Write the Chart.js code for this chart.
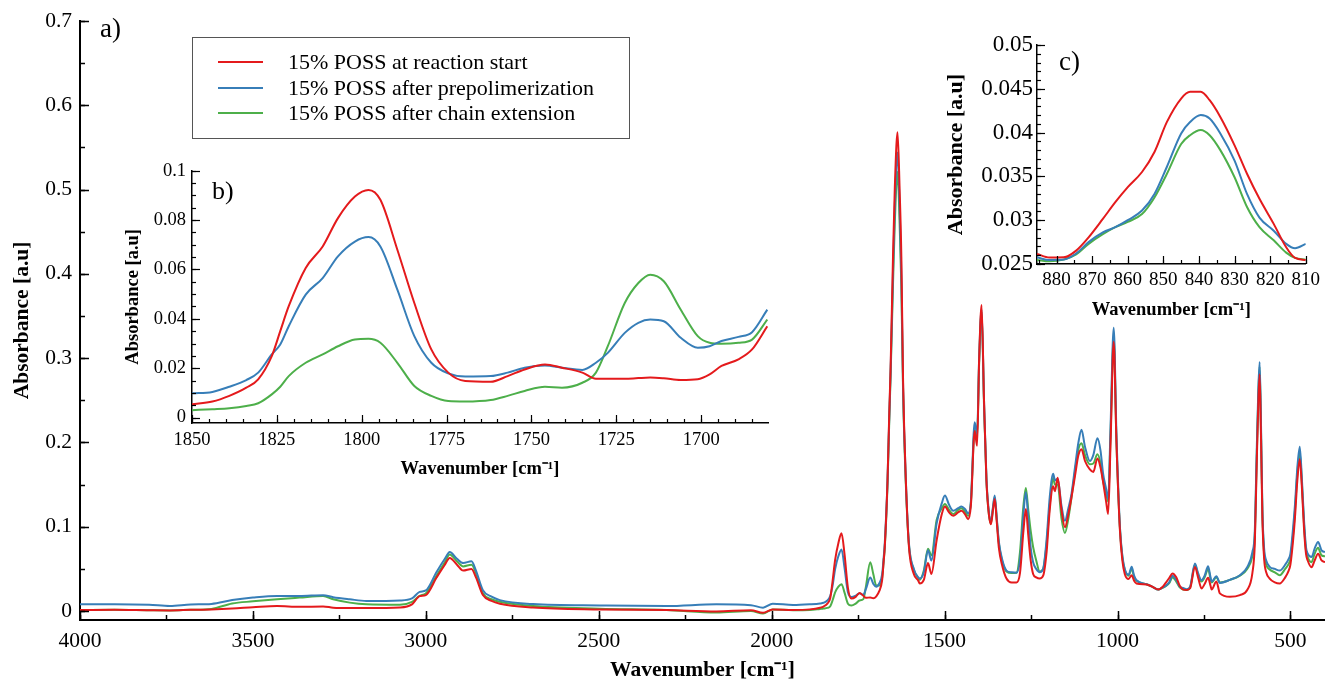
<!DOCTYPE html>
<html>
<head>
<meta charset="utf-8">
<script src="https://cdn.jsdelivr.net/npm/chart.js@4.4.1/dist/chart.umd.min.js"></script>
<style>
  html, body { margin: 0; padding: 0; background: #fff; }
  #wrap { position: relative; width: 1325px; height: 684px; overflow: hidden; }
  canvas { position: absolute; }
</style>
</head>
<body>
<div id="wrap">
  <canvas id="main" width="1325" height="684" style="left:0;top:0"></canvas>
  <canvas id="insetB" width="690" height="340" style="left:100px;top:150px"></canvas>
  <canvas id="insetC" width="390" height="310" style="left:935px;top:20px"></canvas>
</div>
<script>
const seriesLabels = ["15% POSS at reaction start", "15% POSS after prepolimerization", "15% POSS after chain extension"];
const seriesColors = ["#e41a1c", "#377eb8", "#4daf4a"];

// a) full spectrum
const mainWavenumber = [4000, 3900, 3800, 3740, 3680, 3620, 3560, 3500, 3430, 3365, 3297, 3268, 3220, 3172, 3075, 3040, 3018, 3000, 2969, 2945, 2931, 2910, 2892, 2868, 2855, 2835, 2810, 2786, 2690, 2497, 2304, 2160, 2060, 2025, 1997, 1938, 1890, 1860,
  1850, 1839, 1830.5, 1824, 1816.5, 1807, 1798, 1789.5, 1779.5, 1769.5, 1757, 1746, 1735, 1727.5, 1715, 1706, 1697.5, 1689, 1680.5,
  1676, 1673, 1665, 1660, 1656, 1649, 1644, 1636, 1630, 1625, 1620, 1612, 1603, 1589, 1576, 1572, 1560, 1548, 1538, 1523, 1508, 1499, 1487, 1475, 1461, 1451, 1441, 1432, 1424, 1413, 1406, 1400, 1393, 1386, 1379, 1372, 1366, 1360, 1355, 1349, 1343, 1334, 1321, 1306, 1292,
  1282, 1272, 1265, 1258, 1251, 1244, 1235, 1225, 1215, 1205, 1196, 1186, 1181, 1173, 1162, 1152, 1142, 1133, 1123, 1113, 1104, 1094, 1080, 1070, 1058, 1049, 1042, 1033, 1027, 1020, 1011, 1003, 993, 986, 979, 968, 959, 952, 945, 916, 900, 882, 870, 860, 850, 841, 830, 820, 810, 800, 790,
  776, 767, 757, 748, 738, 731, 728, 714, 704, 675, 646, 625, 610, 603, 598, 593, 589, 585, 581, 576, 570, 560, 545, 531, 515, 505, 500, 492, 487, 480, 473, 467, 461, 455, 450, 439, 430, 420, 410, 400];
const mainStart = [0.0012, 0.0015, 0.0010, 0.0008, 0.0015, 0.0020, 0.0030, 0.0045, 0.0060, 0.0050, 0.0055, 0.0040, 0.0035, 0.0035, 0.0043, 0.0080, 0.0177, 0.0190, 0.0397, 0.0550, 0.0630, 0.0550, 0.0480, 0.0500, 0.0400, 0.0190, 0.0120, 0.0087, 0.0043, 0.0020, 0.0012, -0.0004, 0.0010, -0.0020, 0.0020, 0.0013, 0.0020, 0.0040,
  0.0054, 0.0088, 0.0155, 0.0350, 0.0606, 0.0808, 0.0922, 0.0680, 0.0276, 0.0148, 0.0168, 0.0215, 0.0182, 0.0157, 0.0162, 0.0152, 0.0175, 0.0236, 0.0370,
  0.0600, 0.0760, 0.1550, 0.2340, 0.2900, 0.4230, 0.5010, 0.5680, 0.5000, 0.4200, 0.2730, 0.1550, 0.0760, 0.0440, 0.0360, 0.0327, 0.0370, 0.0570, 0.0440, 0.0840, 0.1150, 0.1240, 0.1170, 0.1130, 0.1170, 0.1190, 0.1150, 0.1090, 0.1250, 0.2137, 0.1960, 0.3000, 0.3630, 0.2500, 0.1550, 0.1150, 0.1030, 0.1200, 0.1330, 0.1050, 0.0750, 0.0550, 0.0386, 0.0340, 0.0340,
  0.0450, 0.0950, 0.1210, 0.0900, 0.0600, 0.0440, 0.0400, 0.0386, 0.0420, 0.0700, 0.1200, 0.1480, 0.1420, 0.1580, 0.1200, 0.0995, 0.1150, 0.1350, 0.1600, 0.1850, 0.1920, 0.1780, 0.1680, 0.1650, 0.1810, 0.1700, 0.1540, 0.1300, 0.1150, 0.2000, 0.3195, 0.2000, 0.0955, 0.0600, 0.0440, 0.0380, 0.0425, 0.0360, 0.0327, 0.0314, 0.0290, 0.0255, 0.0285, 0.0338, 0.0395, 0.0447, 0.0400, 0.0300, 0.0255, 0.0250, 0.0270,
  0.0524, 0.0400, 0.0268, 0.0320, 0.0394, 0.0300, 0.0256, 0.0350, 0.0210, 0.0170, 0.0190, 0.0250, 0.0450, 0.0800, 0.1650, 0.2450, 0.2810, 0.2050, 0.1100, 0.0620, 0.0460, 0.0386, 0.0340, 0.0327, 0.0400, 0.0480, 0.0550, 0.0850, 0.1100, 0.1550, 0.1800, 0.1480, 0.1000, 0.0680, 0.0600, 0.0520, 0.0600, 0.0680, 0.0600, 0.0580];
const mainPrepol = [0.0080, 0.0082, 0.0075, 0.0060, 0.0078, 0.0085, 0.0130, 0.0160, 0.0180, 0.0178, 0.0189, 0.0165, 0.0140, 0.0120, 0.0126, 0.0150, 0.0228, 0.0245, 0.0464, 0.0620, 0.0700, 0.0620, 0.0570, 0.0590, 0.0480, 0.0248, 0.0170, 0.0130, 0.0083, 0.0067, 0.0060, 0.0080, 0.0070, 0.0040, 0.0087, 0.0072, 0.0080, 0.0090,
  0.0098, 0.0125, 0.0182, 0.0296, 0.0498, 0.0653, 0.0731, 0.0518, 0.0222, 0.0166, 0.0182, 0.0211, 0.0193, 0.0262, 0.0397, 0.0323, 0.0289, 0.0327, 0.0437,
  0.0640, 0.0800, 0.1550, 0.2300, 0.2850, 0.4050, 0.4800, 0.5440, 0.4800, 0.4000, 0.2650, 0.1550, 0.0800, 0.0500, 0.0400, 0.0386, 0.0460, 0.0720, 0.0600, 0.1040, 0.1280, 0.1370, 0.1260, 0.1190, 0.1220, 0.1240, 0.1210, 0.1160, 0.1300, 0.2240, 0.2100, 0.3000, 0.3580, 0.2500, 0.1580, 0.1180, 0.1060, 0.1240, 0.1370, 0.1100, 0.0820, 0.0620, 0.0480, 0.0460, 0.0455,
  0.0600, 0.1150, 0.1410, 0.1100, 0.0750, 0.0580, 0.0500, 0.0460, 0.0500, 0.0850, 0.1350, 0.1630, 0.1550, 0.1570, 0.1250, 0.1070, 0.1220, 0.1390, 0.1700, 0.2000, 0.2150, 0.1950, 0.1780, 0.1850, 0.2050, 0.1900, 0.1640, 0.1450, 0.1330, 0.2200, 0.3360, 0.2100, 0.1000, 0.0660, 0.0500, 0.0430, 0.0525, 0.0420, 0.0365, 0.0318, 0.0290, 0.0255, 0.0278, 0.0300, 0.0345, 0.0418, 0.0368, 0.0290, 0.0273, 0.0260, 0.0290,
  0.0563, 0.0450, 0.0366, 0.0420, 0.0531, 0.0400, 0.0350, 0.0413, 0.0334, 0.0370, 0.0425, 0.0520, 0.0700, 0.0950, 0.1800, 0.2600, 0.2955, 0.2200, 0.1200, 0.0740, 0.0600, 0.0525, 0.0500, 0.0480, 0.0550, 0.0620, 0.0680, 0.1000, 0.1250, 0.1700, 0.1950, 0.1580, 0.1100, 0.0760, 0.0680, 0.0640, 0.0740, 0.0820, 0.0720, 0.0700];
const mainChain = [0.0012, 0.0015, 0.0010, 0.0008, 0.0015, 0.0025, 0.0090, 0.0115, 0.0140, 0.0160, 0.0180, 0.0140, 0.0100, 0.0080, 0.0075, 0.0110, 0.0180, 0.0210, 0.0420, 0.0580, 0.0670, 0.0590, 0.0530, 0.0550, 0.0450, 0.0210, 0.0140, 0.0110, 0.0060, 0.0028, 0.0012, -0.0016, 0.0000, -0.0030, 0.0020, 0.0010, 0.0012, 0.0025,
  0.0030, 0.0038, 0.0058, 0.0125, 0.0222, 0.0289, 0.0319, 0.0222, 0.0088, 0.0065, 0.0088, 0.0125, 0.0141, 0.0289, 0.0579, 0.0437, 0.0303, 0.0303, 0.0397,
  0.0600, 0.0750, 0.1500, 0.2250, 0.2800, 0.3900, 0.4600, 0.5210, 0.4600, 0.3850, 0.2600, 0.1500, 0.0780, 0.0490, 0.0390, 0.0370, 0.0480, 0.0740, 0.0660, 0.1080, 0.1220, 0.1270, 0.1200, 0.1150, 0.1200, 0.1220, 0.1180, 0.1130, 0.1280, 0.2150, 0.2050, 0.2950, 0.3550, 0.2450, 0.1550, 0.1150, 0.1040, 0.1220, 0.1350, 0.1080, 0.0800, 0.0600, 0.0470, 0.0450, 0.0455,
  0.0700, 0.1250, 0.1460, 0.1200, 0.0950, 0.0760, 0.0600, 0.0470, 0.0500, 0.0800, 0.1250, 0.1580, 0.1500, 0.1500, 0.1100, 0.0925, 0.1100, 0.1350, 0.1650, 0.1920, 0.1990, 0.1850, 0.1740, 0.1750, 0.1860, 0.1750, 0.1550, 0.1400, 0.1300, 0.2100, 0.3250, 0.2000, 0.0980, 0.0640, 0.0490, 0.0420, 0.0500, 0.0400, 0.0360, 0.0318, 0.0290, 0.0255, 0.0275, 0.0298, 0.0335, 0.0401, 0.0349, 0.0280, 0.0255, 0.0250, 0.0280,
  0.0550, 0.0430, 0.0350, 0.0400, 0.0500, 0.0380, 0.0340, 0.0400, 0.0340, 0.0370, 0.0420, 0.0500, 0.0650, 0.0880, 0.1720, 0.2520, 0.2900, 0.2120, 0.1150, 0.0680, 0.0550, 0.0492, 0.0460, 0.0425, 0.0500, 0.0560, 0.0620, 0.0920, 0.1180, 0.1630, 0.1880, 0.1530, 0.1050, 0.0720, 0.0640, 0.0580, 0.0680, 0.0750, 0.0660, 0.0650];

// b) carbonyl region
const bWavenumber = [1850, 1844, 1839, 1834, 1830.5, 1826.5, 1824, 1821.5, 1816.5, 1811.5, 1807, 1802, 1798, 1794.5, 1789.5, 1784.5, 1779.5, 1774.5, 1769.5, 1762, 1757, 1752, 1746, 1741, 1735, 1731, 1727.5, 1722.5, 1718.5, 1715, 1711, 1706, 1701, 1697.5, 1694, 1689, 1685, 1680.5];
const bStart = [0.0054, 0.0065, 0.0088, 0.0121, 0.0155, 0.0249, 0.0350, 0.0451, 0.0606, 0.0693, 0.0808, 0.0895, 0.0922, 0.0882, 0.0680, 0.0464, 0.0276, 0.0182, 0.0148, 0.0145, 0.0168, 0.0195, 0.0215, 0.0202, 0.0182, 0.0157, 0.0157, 0.0157, 0.0160, 0.0162, 0.0159, 0.0152, 0.0155, 0.0175, 0.0209, 0.0236, 0.0276, 0.0370];
const bPrepol = [0.0098, 0.0104, 0.0125, 0.0152, 0.0182, 0.0256, 0.0296, 0.0370, 0.0498, 0.0565, 0.0653, 0.0713, 0.0731, 0.0693, 0.0518, 0.0330, 0.0222, 0.0179, 0.0166, 0.0168, 0.0182, 0.0202, 0.0211, 0.0202, 0.0193, 0.0222, 0.0262, 0.0343, 0.0384, 0.0397, 0.0390, 0.0323, 0.0283, 0.0289, 0.0310, 0.0327, 0.0346, 0.0437];
const bChain = [0.0030, 0.0034, 0.0038, 0.0047, 0.0058, 0.0094, 0.0125, 0.0168, 0.0222, 0.0256, 0.0289, 0.0316, 0.0319, 0.0303, 0.0222, 0.0128, 0.0088, 0.0067, 0.0065, 0.0071, 0.0088, 0.0108, 0.0125, 0.0121, 0.0141, 0.0182, 0.0289, 0.0464, 0.0545, 0.0579, 0.0552, 0.0437, 0.0330, 0.0303, 0.0299, 0.0303, 0.0316, 0.0397];

// c) 840 band
const cWavenumber = [885.5, 882, 878, 874.5, 871, 867, 863.5, 860, 856, 852.5, 849, 845, 842.5, 839.5, 837, 834, 830, 826.5, 823, 819, 815.5, 813, 810];
const cStart = [0.02615, 0.02573, 0.02576, 0.02653, 0.02805, 0.03015, 0.03206, 0.03378, 0.0355, 0.03779, 0.04122, 0.04389, 0.04466, 0.04466, 0.0437, 0.04179, 0.03855, 0.0353, 0.03244, 0.02958, 0.02691, 0.02569, 0.02546];
const cPrepol = [0.02576, 0.02546, 0.0255, 0.0262, 0.0275, 0.0286, 0.0292, 0.0300, 0.0311, 0.0330, 0.0361, 0.0399, 0.0412, 0.0420, 0.0416, 0.0399, 0.0368, 0.0330, 0.0303, 0.0288, 0.0273, 0.0268, 0.0273];
const cChain = [0.02546, 0.0253, 0.0255, 0.0261, 0.0273, 0.0284, 0.0292, 0.0298, 0.0307, 0.0326, 0.0353, 0.0387, 0.0397, 0.0403, 0.0397, 0.0380, 0.0349, 0.0315, 0.0292, 0.0277, 0.0263, 0.0257, 0.0255];

const mainXTicks = [4000, 3500, 3000, 2500, 2000, 1500, 1000, 500];
const mainYTicks = [0, 0.1, 0.2, 0.3, 0.4, 0.5, 0.6, 0.7];
const bXTicks = [1850, 1825, 1800, 1775, 1750, 1725, 1700];
const bYTicks = [0, 0.02, 0.04, 0.06, 0.08, 0.1];
const cXTicks = [880, 870, 860, 850, 840, 830, 820, 810];
const cYTicks = [0.025, 0.03, 0.035, 0.04, 0.045, 0.05];

const SERIF = "'Liberation Serif', 'Times New Roman', serif";

// ticks point into the plot area, so draw them ourselves from the scales
const inwardTicks = {
  id: "inwardTicks",
  afterDraw(chart, args, opts) {
    const { ctx, chartArea: a } = chart;
    ctx.save();
    ctx.strokeStyle = "#000";
    ctx.lineWidth = opts.width;
    const mark = (axis, step, len) => {
      const sc = chart.scales[axis];
      const lo = Math.min(sc.min, sc.max);
      const hi = Math.max(sc.min, sc.max);
      for (let k = Math.ceil(lo / step - 1e-6); k * step <= hi + step * 1e-6; k++) {
        const p = Math.round(sc.getPixelForValue(k * step)) + 0.5;
        ctx.beginPath();
        if (axis === "x") {
          ctx.moveTo(p, a.bottom);
          ctx.lineTo(p, a.bottom - len);
        } else {
          ctx.moveTo(a.left, p);
          ctx.lineTo(a.left + len, p);
        }
        ctx.stroke();
      }
    };
    mark("x", opts.xMinor, opts.minorLen);
    mark("x", opts.xMajor, opts.majorLen);
    mark("y", opts.yMinor, opts.minorLen);
    mark("y", opts.yMajor, opts.majorLen);
    ctx.restore();
  }
};

// panel letter and (main chart only) the boxed legend
const panelText = {
  id: "panelText",
  afterDraw(chart, args, opts) {
    const { ctx } = chart;
    ctx.save();
    ctx.fillStyle = "#000";
    ctx.textBaseline = "alphabetic";
    ctx.font = opts.letterFont;
    ctx.fillText(opts.letter, opts.letterX, opts.letterY);
    if (opts.legend) {
      const L = opts.legend;
      ctx.strokeStyle = "#555";
      ctx.lineWidth = 1;
      ctx.strokeRect(L.x + 0.5, L.y + 0.5, L.w, L.h);
      ctx.font = L.font;
      ctx.textBaseline = "middle";
      chart.data.datasets.forEach((ds, i) => {
        const y = L.rows[i];
        ctx.strokeStyle = ds.borderColor;
        ctx.lineWidth = 2;
        ctx.beginPath();
        ctx.moveTo(L.lineX0, y);
        ctx.lineTo(L.lineX1, y);
        ctx.stroke();
        ctx.fillStyle = "#000";
        ctx.fillText(ds.label, L.textX, y + 1);
      });
    }
    ctx.restore();
  }
};

function makeDatasets(xs, series, width) {
  return series.map((ys, i) => ({
    label: seriesLabels[i],
    data: xs.map((x, j) => ({ x, y: ys[j] })),
    borderColor: seriesColors[i],
    backgroundColor: seriesColors[i],
    borderWidth: width,
    pointRadius: 0,
    cubicInterpolationMode: "monotone",
    fill: false
  }));
}

function axisTitle(text, size, pad) {
  return { display: true, text, color: "#000", font: { family: SERIF, size, weight: "bold" }, padding: pad };
}

function makeChart(canvas, cfg) {
  return new Chart(canvas, {
    type: "line",
    data: { datasets: makeDatasets(cfg.xs, cfg.series, cfg.lineWidth) },
    options: {
      responsive: false,
      animation: false,
      events: [],
      layout: { padding: cfg.padding },
      scales: {
        x: {
          type: "linear",
          reverse: true,
          min: cfg.xMin,
          max: cfg.xMax,
          grid: { display: false, drawTicks: false },
          border: { display: true, color: "#000", width: cfg.axisWidth },
          afterBuildTicks: (s) => { s.ticks = cfg.xTicks.map((v) => ({ value: v })); },
          afterFit: (s) => { s.height = cfg.xHeight; },
          ticks: {
            color: "#000",
            font: { family: SERIF, size: cfg.xTickSize },
            padding: cfg.xTickPad,
            maxRotation: 0,
            autoSkip: false,
            callback: (v) => String(v)
          },
          title: axisTitle("Wavenumber [cm\u207B\u00B9]", cfg.xTitleSize, cfg.xTitlePad)
        },
        y: {
          type: "linear",
          min: cfg.yMin,
          max: cfg.yMax,
          grid: { display: false, drawTicks: false },
          border: { display: true, color: "#000", width: cfg.axisWidth },
          afterBuildTicks: (s) => { s.ticks = cfg.yTicks.map((v) => ({ value: v })); },
          afterFit: (s) => { s.width = cfg.yWidth; },
          ticks: {
            color: "#000",
            font: { family: SERIF, size: cfg.yTickSize },
            padding: cfg.yTickPad,
            callback: (v) => String(v)
          },
          title: axisTitle("Absorbance [a.u]", cfg.yTitleSize, cfg.yTitlePad)
        }
      },
      plugins: {
        legend: { display: false },
        tooltip: { enabled: false },
        inwardTicks: cfg.tickMarks,
        panelText: cfg.text
      }
    },
    plugins: [inwardTicks, panelText]
  });
}

makeChart(document.getElementById("main"), {
  xs: mainWavenumber, series: [mainStart, mainPrepol, mainChain], lineWidth: 2,
  padding: { top: 18, right: 0, left: 0, bottom: 0 },
  xMin: 400, xMax: 4000, yMin: -0.0106, yMax: 0.7,
  xTicks: mainXTicks, yTicks: mainYTicks,
  xHeight: 64, yWidth: 80, axisWidth: 2,
  xTickSize: 21.5, xTickPad: 8, yTickSize: 21.5, yTickPad: 8,
  xTitleSize: 21.5, xTitlePad: { top: 0, bottom: 1 },
  yTitleSize: 21.5, yTitlePad: { top: 10, bottom: 0 },
  tickMarks: { width: 1.5, xMajor: 500, xMinor: 250, yMajor: 0.1, yMinor: 0.05, majorLen: 9, minorLen: 5 },
  text: {
    letter: "a)", letterX: 100, letterY: 37, letterFont: "27px " + SERIF,
    legend: { x: 192, y: 37, w: 437, h: 101, font: "22px " + SERIF, lineX0: 218, lineX1: 263, textX: 288, rows: [62, 88, 113] }
  }
});

makeChart(document.getElementById("insetB"), {
  xs: bWavenumber, series: [bStart, bPrepol, bChain], lineWidth: 2,
  padding: { top: 20.7, right: 22, left: 0, bottom: 0 },
  xMin: 1680.3, xMax: 1850, yMin: -0.0022, yMax: 0.1,
  xTicks: bXTicks, yTicks: bYTicks,
  xHeight: 67, yWidth: 92, axisWidth: 1.5,
  xTickSize: 18.5, xTickPad: 6, yTickSize: 18.5, yTickPad: 6,
  xTitleSize: 18.5, xTitlePad: { top: 0, bottom: 10 },
  yTitleSize: 18.5, yTitlePad: { top: 22, bottom: 0 },
  tickMarks: { width: 1.2, xMajor: 25, xMinor: 5, yMajor: 0.02, yMinor: 0.005, majorLen: 8, minorLen: 4 },
  text: { letter: "b)", letterX: 112, letterY: 49, letterFont: "26px " + SERIF }
});

makeChart(document.getElementById("insetC"), {
  xs: cWavenumber, series: [cStart, cPrepol, cChain], lineWidth: 2,
  padding: { top: 25, right: 15, left: 0, bottom: 0 },
  xMin: 810, xMax: 885.5, yMin: 0.025, yMax: 0.05,
  xTicks: cXTicks, yTicks: cYTicks,
  xHeight: 66, yWidth: 102, axisWidth: 1.5,
  xTickSize: 19, xTickPad: 5, yTickSize: 23, yTickPad: 4,
  xTitleSize: 18.5, xTitlePad: { top: 0, bottom: 9 },
  yTitleSize: 22, yTitlePad: { top: 8, bottom: 0 },
  tickMarks: { width: 1.2, xMajor: 10, xMinor: 5, yMajor: 0.005, yMinor: 0.001, majorLen: 8, minorLen: 4 },
  text: { letter: "c)", letterX: 124, letterY: 50, letterFont: "27px " + SERIF }
});
</script>
</body>
</html>
